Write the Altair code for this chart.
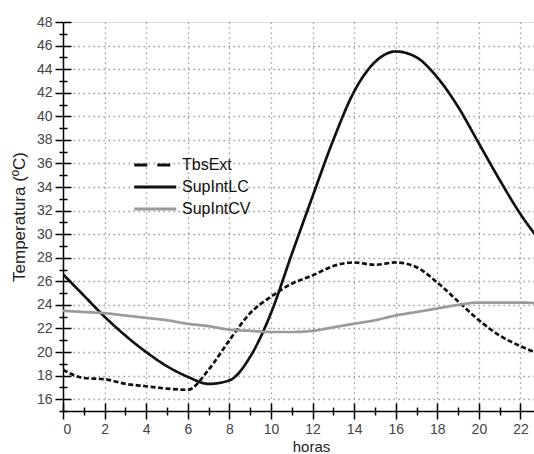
import altair as alt
import pandas as pd

hours = list(range(24))
tbs_ext = [18.5, 17.8, 17.7, 17.3, 17.1, 16.9, 16.8, 18.5, 21.0, 23.3, 24.7, 25.8,
           26.5, 27.3, 27.6, 27.4, 27.6, 27.2, 25.9, 24.3, 22.7, 21.4, 20.5, 19.8]
sup_lc = [26.6, 24.8, 23.0, 21.4, 20.0, 18.8, 17.9, 17.3, 17.6, 19.6, 23.3, 28.3,
          33.2, 38.0, 42.1, 44.6, 45.5, 45.0, 43.3, 40.8, 37.7, 34.6, 31.7, 29.3]
sup_cv = [23.5, 23.4, 23.3, 23.1, 22.9, 22.7, 22.4, 22.2, 21.9, 21.8, 21.7, 21.7,
          21.8, 22.1, 22.4, 22.7, 23.1, 23.4, 23.7, 24.0, 24.2, 24.2, 24.2, 24.1]
series = ["TbsExt", "SupIntLC", "SupIntCV"]
series_colors = ["#111111", "#111111", "#9a9a9a"]
x_major = list(range(0, 24, 2))
x_minor = list(range(1, 24, 2))
y_major = list(range(16, 49, 2))
y_minor = list(range(15, 48, 2))

df = pd.DataFrame({
    "horas": hours * 3,
    "temp": tbs_ext + sup_lc + sup_cv,
    "serie": [s for s in series for _ in hours],
})

FONT = "Liberation Sans"
xs = alt.Scale(domain=[0, 22.65], nice=False, zero=False)
ys = alt.Scale(domain=[15, 48], nice=False, zero=False)


def blank_axis(orient, values, size, offset, grid=False):
    return alt.Axis(orient=orient, values=values, labels=False, title=None,
                    domain=False, ticks=size > 0, tickSize=max(size, 0.1),
                    tickColor="black", tickWidth=1.5, offset=offset,
                    grid=grid, gridColor="#8a8a8a", gridDash=[1.3, 3.7], gridWidth=1.3)


base = alt.Chart(df)

main = base.mark_line(strokeWidth=2.7, interpolate="monotone", clip=True).encode(
    x=alt.X("horas:Q", scale=xs, axis=alt.Axis(
        orient="bottom",
        values=x_major, title="horas", titleFont=FONT, titleFontSize=15,
        titleFontWeight="normal", titleColor="#222", titleX=248, titlePadding=3,
        labelFont=FONT, labelFontSize=14, labelColor="#444", labelPadding=3,
        domainColor="black", domainWidth=1.5, tickColor="black", tickWidth=1.5,
        tickSize=8, grid=False)),
    y=alt.Y("temp:Q", scale=ys, axis=alt.Axis(
        orient="left",
        values=y_major, title="Temperatura (ºC)", titleFont=FONT, titleFontSize=17,
        titleFontWeight="normal", titleColor="#222", titlePadding=8,
        labelFont=FONT, labelFontSize=14, labelColor="#444", labelPadding=3,
        domainColor="black", domainWidth=1.5, tickColor="black", tickWidth=1.5,
        tickSize=8, grid=False)),
    color=alt.Color("serie:N", sort=series, scale=alt.Scale(
        domain=series, range=series_colors), legend=None),
    strokeDash=alt.StrokeDash("serie:N", sort=series, scale=alt.Scale(
        domain=series, range=[[5, 2.5], [1, 0], [1, 0]]), legend=None),
)

legend_kw = dict(
    title=None, orient="none", legendX=100, legendY=135,
    labelFont=FONT, labelFontSize=16, labelColor="#111", labelOffset=3,
    symbolType="M-7,0H1", symbolSize=110, symbolStrokeWidth=3,
    rowPadding=6, padding=0,
)

legend_layer = base.transform_filter("false").mark_line(strokeWidth=3).encode(
    x=alt.X("horas:Q", scale=xs, axis=None),
    y=alt.Y("temp:Q", scale=ys, axis=None),
    color=alt.Color("serie:N", sort=series, scale=alt.Scale(
        domain=series, range=series_colors), legend=alt.Legend(**legend_kw)),
    strokeDash=alt.StrokeDash("serie:N", sort=series, scale=alt.Scale(
        domain=series, range=[[13, 10], [1, 0], [1, 0]]), legend=alt.Legend(**legend_kw)),
)


def ghost(xax, yax):
    return base.mark_line(strokeOpacity=0, clip=True).encode(
        x=alt.X("horas:Q", scale=xs, axis=xax),
        y=alt.Y("temp:Q", scale=ys, axis=yax),
    )


grid_layer = ghost(blank_axis("bottom", x_major[1:], 0, 0, grid=True),
                   blank_axis("left", y_major[:-1], 0, 0, grid=True))
major_in = ghost(blank_axis("bottom", x_major, 8, -8),
                 blank_axis("left", y_major, 8, -8))
minor_out = ghost(blank_axis("bottom", x_minor, 4, 0),
                  blank_axis("left", y_minor, 4, 0))
minor_in = ghost(blank_axis("bottom", x_minor, 4, -4),
                 blank_axis("left", y_minor, 4, -4))

chart = alt.layer(grid_layer, major_in, minor_out, minor_in, main, legend_layer).resolve_axis(
    x="independent", y="independent"
).resolve_scale(
    x="shared", y="shared", color="independent", strokeDash="independent"
).properties(
    width=471, height=389,
    autosize=alt.AutoSizeParams(type="none"),
    padding={"left": 63, "top": 22, "right": 0, "bottom": 43},
).configure_view(stroke=None).configure(background="white")

chart.save("out.html", embed_options={"renderer": "svg", "actions": False})
